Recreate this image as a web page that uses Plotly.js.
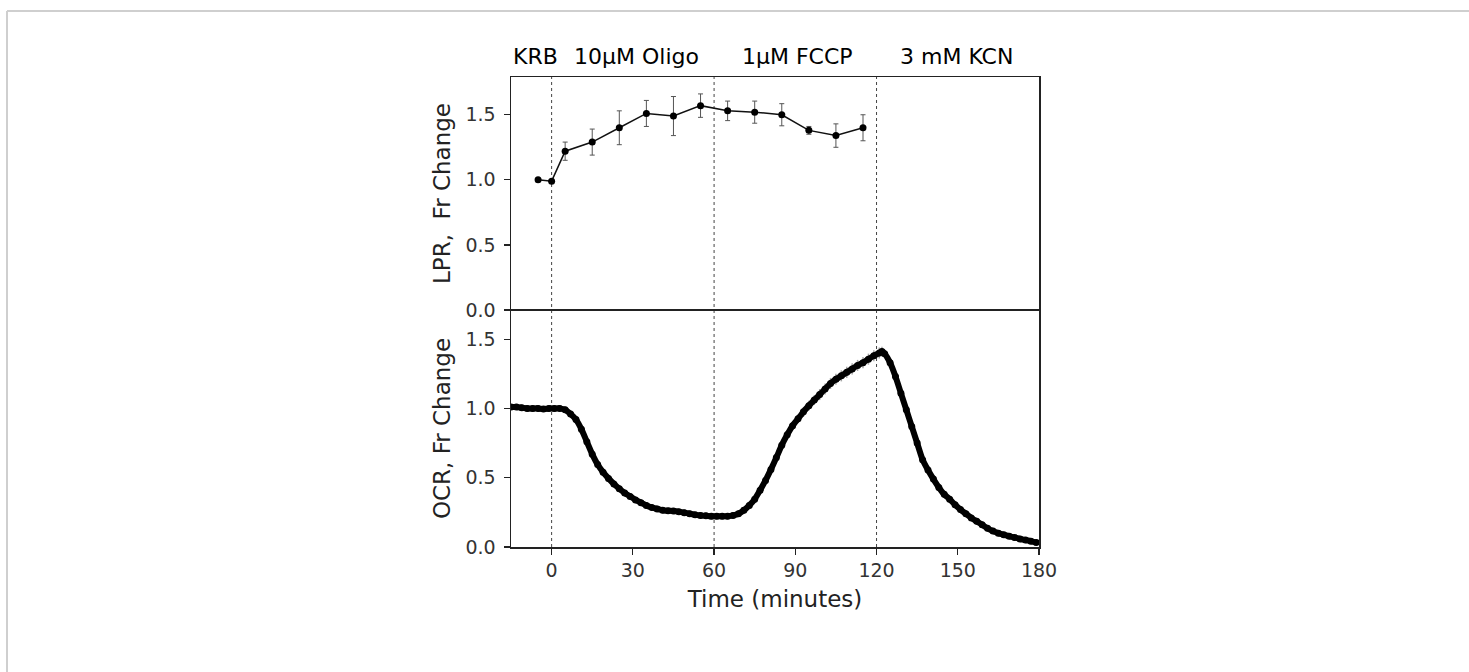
<!DOCTYPE html>
<html>
<head>
<meta charset="utf-8">
<script src="https://cdn.plot.ly/plotly-3.0.1.min.js"></script>
<style>
html,body{margin:0;padding:0;background:#fff;}
#chart{width:1469px;height:672px;}
</style>
</head>
<body>
<div id="chart"></div>
<script>
// ---- Data ----
const eventTimes = [0, 60, 120];
const eventLabels = ["KRB", "10\u03bcM Oligo", "1\u03bcM FCCP", "3 mM KCN"];
const eventLabelX = [-5.8, 31.2, 90.8, 149.4];

const lprTime = [-5, 0, 5, 15, 25, 35, 45, 55, 65, 75, 85, 95, 105, 115];
const lprVal  = [1.00, 0.99, 1.22, 1.29, 1.40, 1.51, 1.49, 1.57, 1.53, 1.52, 1.50, 1.38, 1.34, 1.40];
const lprErr  = [0, 0, 0.07, 0.10, 0.13, 0.10, 0.15, 0.09, 0.075, 0.085, 0.085, 0.03, 0.09, 0.10];

const ocrTime = [-15,-13,-11,-9,-7,-5,-3,-1,1,3,5,7,9,11,13,15,17,19,21,23,25,27,29,31,33,35,37,39,41,43,45,47,49,51,53,55,57,59,61,63,65,67,69,71,73,75,77,79,81,83,85,87,89,91,93,95,97,99,101,103,105,107,109,111,113,115,117,119,121,122,123,125,127,129,131,133,135,137,139,141,143,145,147,149,151,153,155,157,159,161,163,165,167,169,171,173,175,177,179];
const ocrVal = [1.01,1.01,1.005,1.0,1.0,1.0,0.995,1.0,1.0,1.0,0.99,0.96,0.92,0.85,0.76,0.67,0.595,0.54,0.495,0.455,0.42,0.39,0.365,0.34,0.32,0.30,0.285,0.275,0.265,0.262,0.26,0.255,0.248,0.24,0.232,0.228,0.225,0.222,0.222,0.222,0.222,0.228,0.24,0.265,0.30,0.345,0.41,0.48,0.56,0.645,0.735,0.81,0.875,0.925,0.975,1.02,1.06,1.10,1.14,1.18,1.21,1.235,1.26,1.285,1.31,1.33,1.355,1.38,1.40,1.41,1.395,1.33,1.23,1.11,0.99,0.87,0.75,0.63,0.555,0.49,0.43,0.38,0.345,0.305,0.27,0.24,0.21,0.185,0.16,0.135,0.115,0.10,0.088,0.078,0.068,0.058,0.05,0.042,0.032];
const ocrErr = [0.01,0.01,0.01,0.01,0.01,0.01,0.01,0.01,0.01,0.01,0.01,0.01,0.01,0.01,0.01,0.01,0.01,0.01,0.01,0.01,0.01,0.01,0.01,0.01,0.01,0.01,0.01,0.01,0.01,0.01,0.01,0.01,0.01,0.01,0.01,0.01,0.01,0.01,0.01,0.01,0.01,0.01,0.01,0.01,0.01,0.015,0.015,0.02,0.02,0.02,0.025,0.025,0.03,0.03,0.035,0.035,0.035,0.04,0.04,0.04,0.04,0.04,0.04,0.04,0.04,0.04,0.04,0.04,0.04,0.035,0.03,0.02,0.015,0.015,0.01,0.01,0.01,0.01,0.01,0.01,0.01,0.01,0.01,0.01,0.01,0.01,0.01,0.01,0.01,0.01,0.01,0.01,0.01,0.01,0.01,0.01,0.01,0.01,0.01];

// ---- Layout geometry ----
const W = 1469, H = 672;
const M = {l: 511, r: 430, t: 77, b: 125};
const PW = W - M.l - M.r, PH = H - M.t - M.b;
const split = (547 - 310) / PH;

const FONT = "DejaVu Sans, sans-serif";
const AX = '#222';

const traces = [
  {
    x: lprTime, y: lprVal, xaxis: 'x2', yaxis: 'y2',
    type: 'scatter', mode: 'lines+markers',
    line: {color: '#111', width: 1.5},
    marker: {color: '#000', size: 7},
    error_y: {type: 'data', array: lprErr, visible: true, color: '#555', thickness: 1, width: 2.5},
    hoverinfo: 'x+y', showlegend: false
  },
  {
    x: ocrTime, y: ocrVal, xaxis: 'x', yaxis: 'y',
    type: 'scatter', mode: 'lines+markers',
    line: {color: '#000', width: 6, shape: 'spline', smoothing: 0.6},
    marker: {color: '#000', size: 7},
    error_y: {type: 'data', array: ocrErr, visible: true, color: 'rgba(0,0,0,0.35)', thickness: 1.5, width: 0},
    hoverinfo: 'x+y', showlegend: false
  }
];

const shapes = [];
eventTimes.forEach(t => {
  shapes.push({type: 'line', xref: 'x', yref: 'paper', x0: t, x1: t, y0: 0, y1: 1,
               line: {color: '#444', width: 1, dash: 'dot'}, layer: 'below'});
});
// outer grey frame (top and left edges)
shapes.push({type: 'line', xref: 'paper', yref: 'paper',
  x0: (7 - M.l) / PW, x1: (W - M.l) / PW, y0: (H - M.b - 11) / PH, y1: (H - M.b - 11) / PH,
  line: {color: '#cfcfcf', width: 2}});
shapes.push({type: 'line', xref: 'paper', yref: 'paper',
  x0: (7 - M.l) / PW, x1: (7 - M.l) / PW, y0: (H - M.b - 11) / PH, y1: -M.b / PH,
  line: {color: '#cfcfcf', width: 2}});

const annotations = eventLabels.map((s, i) => ({
  text: s, x: eventLabelX[i], xref: 'x', y: (H - M.b - 57) / PH, yref: 'paper',
  xanchor: 'center', yanchor: 'middle', showarrow: false,
  font: {family: FONT, size: 22, color: '#000'}
}));

const commonY = {
  showline: true, linecolor: AX, linewidth: 1.5, mirror: true,
  ticks: 'outside', ticklen: 6, tickwidth: 1.2, tickcolor: AX,
  tickfont: {family: FONT, size: 19, color: '#333'},
  showgrid: false, zeroline: false, tickformat: '.1f',
  tickvals: [0, 0.5, 1.0, 1.5], ticklabelstandoff: 4
};

const layout = {
  width: W, height: H,
  margin: M,
  paper_bgcolor: '#fff', plot_bgcolor: '#fff',
  font: {family: FONT, color: '#000'},
  showlegend: false,
  xaxis: {
    domain: [0, 1], range: [-15, 180], anchor: 'y',
    showline: true, linecolor: AX, linewidth: 1.5, mirror: true,
    ticks: 'outside', ticklen: 6, tickwidth: 1.2, tickcolor: AX,
    tickvals: [0, 30, 60, 90, 120, 150, 180],
    tickfont: {family: FONT, size: 19, color: '#333'},
    showgrid: false, zeroline: false,
    title: {text: 'Time (minutes)', font: {family: FONT, size: 23, color: '#222'}, standoff: 10}
  },
  xaxis2: {
    domain: [0, 1], range: [-15, 180], anchor: 'y2', matches: 'x',
    showline: true, linecolor: AX, linewidth: 1.2, mirror: true,
    showticklabels: false, ticks: '', showgrid: false, zeroline: false
  },
  yaxis: Object.assign({}, commonY, {
    domain: [0, split], range: [0, 1.71], anchor: 'x',
    title: {text: 'OCR, Fr Change', font: {family: FONT, size: 23, color: '#222'}, standoff: 8}
  }),
  yaxis2: Object.assign({}, commonY, {
    domain: [split, 1], range: [0, 1.79], anchor: 'x2',
    title: {text: 'LPR,\u00a0 Fr Change', font: {family: FONT, size: 23, color: '#222'}, standoff: 8}
  }),
  shapes: shapes,
  annotations: annotations
};

Plotly.newPlot('chart', traces, layout, {displayModeBar: false, staticPlot: true});
</script>
</body>
</html>
